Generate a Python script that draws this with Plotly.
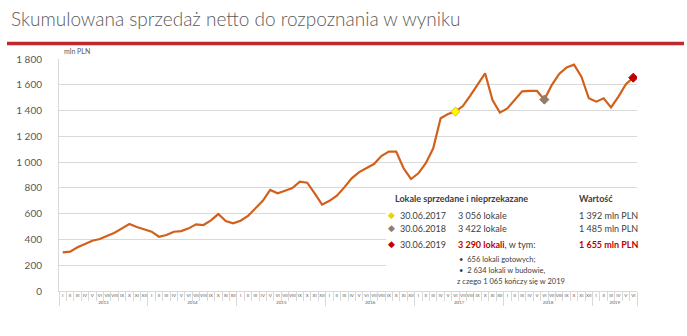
import plotly.graph_objects as go

# ---------------- data ----------------
year_labels = ["2013", "2014", "2015", "2016", "2017", "2018", "2019"]
month_labels = ["I", "II", "III", "IV", "V", "VI", "VII", "VIII", "IX", "X", "XI", "XII"]
months_in_last_year = 6

values = [
    300, 305, 339, 365, 390, 403, 427, 452, 486, 520, 497, 476,      # 2013
    460, 421, 434, 460, 465, 486, 517, 512, 548, 597, 543, 525,      # 2014
    545, 582, 641, 700, 784, 758, 778, 799, 848, 840, 758, 670,      # 2015
    700, 740, 804, 874, 923, 952, 985, 1047, 1081, 1081, 952, 869,   # 2016
    913, 991, 1107, 1340, 1373, 1392, 1435, 1515, 1598, 1689, 1482, 1384,  # 2017
    1416, 1482, 1549, 1552, 1552, 1485, 1598, 1684, 1735, 1756, 1663, 1495,  # 2018
    1469, 1495, 1425, 1508, 1604, 1655,                               # 2019
]

marker_years = ["2017", "2018", "2019"]
marker_months = ["VI", "VI", "VI"]
marker_values = [1392, 1485, 1655]
marker_colors = ["#FFFF00", "#8C7E70", "#C00000"]
marker_lines = ["#F0B400", "#8C7E70", "#C00000"]

title_text = "Skumulowana sprzedaż netto do rozpoznania w wyniku"
y_unit = "mln PLN"

table_header = ["Lokale sprzedane i nieprzekazane", "Wartość"]
table_dates = ["30.06.2017", "30.06.2018", "30.06.2019"]
table_units = ["3 056 lokale", "3 422 lokale", "<b>3 290 lokali</b>"]
table_values = ["1 392 mln PLN", "1 485 mln PLN", "<b>1 655 mln PLN</b>"]
table_notes = ["•  656 lokali gotowych;", "•  2 634 lokali w budowie,", "z czego 1 065 kończy się w 2019"]

# ---------------- build categories ----------------
x_years, x_months = [], []
for yi, yr in enumerate(year_labels):
    n = months_in_last_year if yi == len(year_labels) - 1 else 12
    for m in month_labels[:n]:
        x_years.append(yr)
        x_months.append(m)

W, H = 687, 336
L, R, T, B = 59, 50, 59, 45
PW, PH = W - L - R, H - T - B


def px(xp):
    return (xp - L) / PW


def py(yp):
    return (H - B - yp) / PH


FONT = "Lato, Carlito, 'Open Sans', sans-serif"
GREY = "#595959"
RED = "#C00000"
ORANGE = "#D2601A"

fig = go.Figure()
fig.add_trace(go.Scatter(
    x=[x_years, x_months], y=values, mode="lines",
    line=dict(color=ORANGE, width=2.2), hoverinfo="skip", showlegend=False,
))
fig.add_trace(go.Scatter(
    x=[marker_years, marker_months], y=marker_values, mode="markers",
    marker=dict(symbol="diamond", size=7, color=marker_colors,
                line=dict(color=marker_lines, width=1)),
    hoverinfo="skip", showlegend=False,
))

shapes = [
    # red rule under title
    dict(type="line", xref="paper", yref="paper", x0=px(7), x1=px(684), y0=py(43.5), y1=py(43.5),
         line=dict(color="#C0282D", width=3.5)),
    # white panel behind the table
    dict(type="rect", xref="paper", yref="paper", x0=px(386), x1=px(650), y0=py(290), y1=py(192),
         fillcolor="white", line=dict(width=0), layer="above"),
]

ann = []
ann.append(dict(text=title_text, xref="paper", yref="paper", x=px(9), y=py(18),
                xanchor="left", yanchor="middle", showarrow=False,
                font=dict(family=FONT, size=19, color="#5A5A5A", weight=300)))
ann.append(dict(text=y_unit, xref="paper", yref="paper", x=px(62), y=py(51.5),
                xanchor="left", yanchor="middle", showarrow=False,
                font=dict(family=FONT, size=7, color=GREY)))

TF = dict(family=FONT, size=9, color="#404040")
ann.append(dict(text="<b>" + table_header[0] + "</b>", xref="paper", yref="paper", x=px(393), y=py(198),
                xanchor="left", yanchor="middle", showarrow=False, font=TF))
ann.append(dict(text="<b>" + table_header[1] + "</b>", xref="paper", yref="paper", x=px(577), y=py(198),
                xanchor="left", yanchor="middle", showarrow=False, font=TF))
row_y = [215, 228, 244]
for i in range(3):
    ann.append(dict(text="◆", xref="paper", yref="paper", x=px(392), y=py(row_y[i]),
                    xanchor="center", yanchor="middle", showarrow=False,
                    font=dict(family="DejaVu Sans", size=9, color=marker_colors[i] if i else "#F2D000")))
    ann.append(dict(text=table_dates[i], xref="paper", yref="paper", x=px(398), y=py(row_y[i]),
                    xanchor="left", yanchor="middle", showarrow=False, font=TF))
    if i == 2:
        utext = "<span style='color:%s'>%s</span>, w tym:" % (RED, table_units[i])
        vtext = "<span style='color:%s'>%s</span>" % (RED, table_values[i])
    else:
        utext = table_units[i]
        vtext = table_values[i]
    ann.append(dict(text=utext, xref="paper", yref="paper", x=px(456), y=py(row_y[i]),
                    xanchor="left", yanchor="middle", showarrow=False, font=TF))
    ann.append(dict(text=vtext, xref="paper", yref="paper", x=px(577), y=py(row_y[i]),
                    xanchor="left", yanchor="middle", showarrow=False, font=TF))

note_y = [259, 270, 281]
note_x = [457, 457, 455]
for i in range(3):
    ann.append(dict(text=table_notes[i], xref="paper", yref="paper", x=px(note_x[i]), y=py(note_y[i]),
                    xanchor="left", yanchor="middle", showarrow=False,
                    font=dict(family=FONT, size=7.5, color="#404040")))

fig.update_layout(
    width=W, height=H, margin=dict(l=L, r=R, t=T, b=B),
    paper_bgcolor="white", plot_bgcolor="white",
    separators=", ",
    showlegend=False,
    shapes=shapes, annotations=ann,
    xaxis=dict(
        type="multicategory", range=[-0.5, len(values) - 0.5],
        showgrid=False, showline=True, linecolor="#D9D9D9", linewidth=1,
        ticks="outside", tickson="boundaries", ticklen=9, tickcolor="#D9D9D9",
        showdividers=True, dividercolor="#D9D9D9", dividerwidth=1,
        tickangle=0,
        tickfont=dict(family=FONT, size=4.5, color=GREY),
    ),
    yaxis=dict(
        range=[0, 1800], dtick=200, tickformat=",d",
        showgrid=True, gridcolor="#D9D9D9", gridwidth=1,
        zeroline=False, showline=True, linecolor="#D9D9D9",
        ticks="", ticklabelstandoff=14,
        tickfont=dict(family=FONT, size=10, color=GREY),
    ),
)

fig.write_html("out.html")
